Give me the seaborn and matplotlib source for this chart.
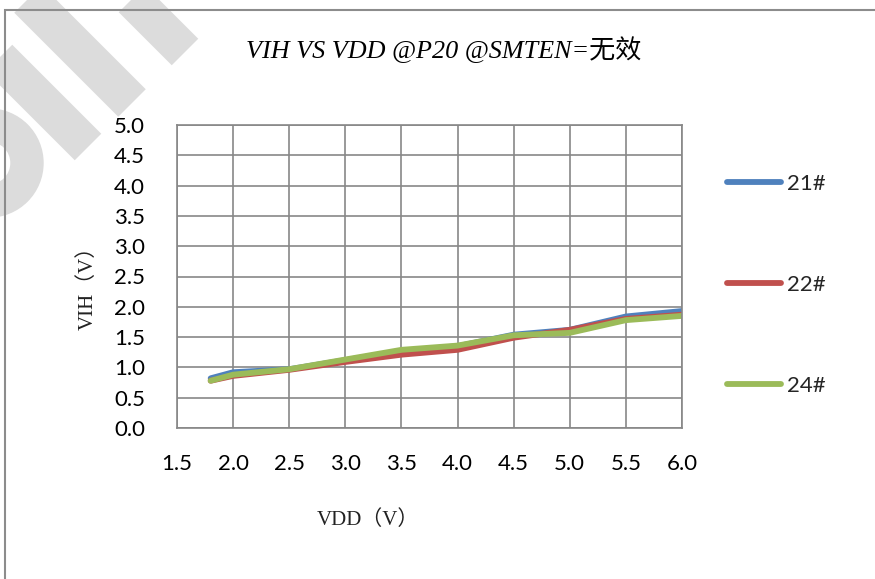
import matplotlib
matplotlib.use('Agg')
import matplotlib.pyplot as plt
import matplotlib.patches as mpatches
from matplotlib.lines import Line2D
import seaborn as sns
import pandas as pd

# data
vdd = [1.8, 2.0, 2.5, 3.0, 3.5, 4.0, 4.5, 5.0, 5.5, 6.0]
vih_21 = [0.82, 0.92, 0.97, 1.12, 1.27, 1.35, 1.54, 1.62, 1.84, 1.93]
vih_22 = [0.78, 0.86, 0.96, 1.09, 1.21, 1.29, 1.49, 1.62, 1.80, 1.87]
vih_24 = [0.78, 0.88, 0.97, 1.13, 1.29, 1.36, 1.53, 1.57, 1.78, 1.85]
series_names = ['21#', '22#', '24#']
x_ticks = [1.5, 2.0, 2.5, 3.0, 3.5, 4.0, 4.5, 5.0, 5.5, 6.0]
y_ticks = [0.0, 0.5, 1.0, 1.5, 2.0, 2.5, 3.0, 3.5, 4.0, 4.5, 5.0]

df = pd.DataFrame({
    'VDD': vdd * 3,
    'VIH': vih_21 + vih_22 + vih_24,
    'chip': [series_names[0]] * len(vdd) + [series_names[1]] * len(vdd) + [series_names[2]] * len(vdd),
})

sns.set_theme(style='white')
plt.rcParams['font.family'] = ['Lato', 'DejaVu Sans']

W, H = 875, 579
fig = plt.figure(figsize=(W / 100, H / 100), dpi=100)

def px(x, y):
    # pixel position (top-left origin) -> inches for dpi_scale_trans
    return x / 100, (H - y) / 100

# light grey watermark in the top-left corner (45 degree stripes + ring)
wm = '#dcdcdc'
for (x1, y1), lw in [((88, 147), 27), ((132, 103), 28), ((185, 52), 27)]:
    p0, p1 = px(x1 - 300, y1 - 300), px(x1, y1)
    fig.add_artist(Line2D([p0[0], p1[0]], [p0[1], p1[1]], color=wm, lw=lw,
                          solid_capstyle='butt', transform=fig.dpi_scale_trans, zorder=0))
fig.add_artist(mpatches.Wedge(px(-11, 163), 0.54, -90, 90, width=0.32, color=wm,
                              transform=fig.dpi_scale_trans, zorder=0))

# outer chart border (only top and left visible)
fig.add_artist(mpatches.Rectangle(px(5, 700), 9.5, 6.9, fill=False, edgecolor='#8c8c8c',
                                  lw=1.5, transform=fig.dpi_scale_trans, zorder=1))

ax = fig.add_axes([177 / W, (H - 428) / H, (682 - 177) / W, (428 - 125) / H])
ax.set_facecolor('white')

palette = {'21#': '#4f81bd', '22#': '#c0504d', '24#': '#9bbb59'}
sns.lineplot(data=df, x='VDD', y='VIH', hue='chip', hue_order=series_names,
             palette=palette, linewidth=4.2, ax=ax, legend=True)
for line in ax.lines:
    line.set_solid_joinstyle('round')
    line.set_solid_capstyle('round')

ax.set_xlim(1.5, 6.0)
ax.set_ylim(0, 5.0)
ax.set_xticks(x_ticks)
ax.set_yticks(y_ticks)
ax.set_xticklabels([f'{v:.1f}' for v in x_ticks])
ax.set_yticklabels([f'{v:.1f}' for v in y_ticks])
ax.grid(True, color='#878787', linewidth=1.2)
ax.set_axisbelow(True)
for s in ax.spines.values():
    s.set_color('#878787')
    s.set_linewidth(1.2)
ax.tick_params(axis='x', length=0, pad=19, labelsize=16, labelcolor='black')
ax.tick_params(axis='y', length=0, pad=23, labelsize=16, labelcolor='black')
ax.set_xlabel('')
ax.set_ylabel('')

handles, labels = ax.get_legend_handles_labels()
ax.get_legend().remove()
for h in handles:
    h.set_linewidth(4.2)
    h.set_solid_capstyle('round')
fig.legend(handles, labels, loc='center left', bbox_to_anchor=(727 / W, (H - 285) / H),
           bbox_transform=fig.transFigure, frameon=False, fontsize=16,
           handlelength=2.45, handletextpad=0.27, labelspacing=3.65,
           borderpad=0, borderaxespad=0)

serif_cjk = ['Liberation Serif', 'Noto Sans CJK SC']
fig.text(444 / W, (H - 50) / H, 'VIH VS VDD @P20 @SMTEN=无效', ha='center', va='center',
         fontsize=18.8, style='italic', family=serif_cjk, color='black')
fig.text(88 / W, (H - 283) / H, 'VIH（V）', ha='center', va='center', rotation=90,
         fontsize=15, family=serif_cjk, color='#222222')
fig.text(368 / W, (H - 520) / H, 'VDD（V）', ha='center', va='center',
         fontsize=15, family=serif_cjk, color='#222222')

fig.savefig('out.png', dpi=100, facecolor='white')
plt.close(fig)
print('Saved: out.png')
